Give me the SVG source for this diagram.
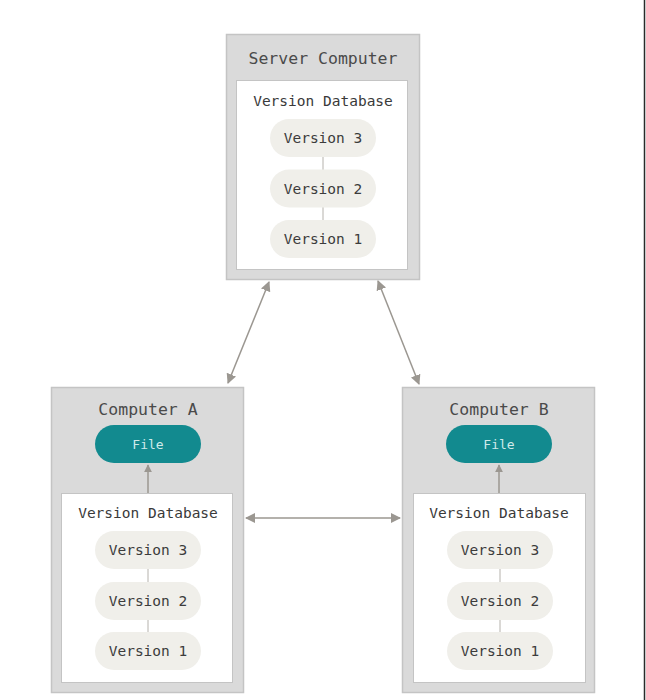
<svg xmlns="http://www.w3.org/2000/svg" width="646" height="700" viewBox="0 0 646 700">
<defs>
<style>
.outer{fill:#dadada;stroke:#c4c4c4;stroke-width:1.5}
.inner{fill:#ffffff;stroke:#c4c4c4;stroke-width:1}
.pill{fill:#f0efea}
.file{fill:#128a8f}
.t{font-family:"DejaVu Sans Mono","Liberation Mono",monospace;fill:#4a4a4a;text-anchor:middle}
.h{font-size:16.5px}
.d{font-size:14.5px;fill:#3a3a3a}
.p{font-size:14.5px;fill:#3c3c3c}
.f{font-size:13px;fill:#cfeaea}
.link{stroke:#b5b2ac;stroke-width:1}
.arr{stroke:#9b9791;stroke-width:1.5;fill:none}
</style>
<marker id="ah" viewBox="0 0 10 10" refX="9" refY="5" markerWidth="8" markerHeight="8" markerUnits="userSpaceOnUse" orient="auto-start-reverse">
<path d="M0,0 L10,5 L0,10 z" fill="#9b9791"/>
</marker>
<marker id="ah2" viewBox="0 0 10 10" refX="9" refY="5" markerWidth="10" markerHeight="10" markerUnits="userSpaceOnUse" orient="auto-start-reverse">
<path d="M0,0 L10,5 L0,10 z" fill="#9b9791"/>
</marker>
</defs>
<rect x="0" y="0" width="646" height="700" fill="#ffffff"/>
<line x1="644.5" y1="0" x2="644.5" y2="700" stroke="#2a2a2a" stroke-width="1.5"/>

<g id="server">
<rect class="outer" x="226.5" y="34.5" width="193" height="245"/>
<rect class="inner" x="236.5" y="80.5" width="171" height="189"/>
<text class="t h" x="323" y="63.5">Server Computer</text>
<text class="t d" x="323" y="106">Version Database</text>
<line class="link" x1="323" y1="157" x2="323" y2="170"/>
<line class="link" x1="323" y1="207" x2="323" y2="220"/>
<rect class="pill" x="270" y="119" width="106" height="38" rx="19"/>
<text class="t p" x="323" y="143">Version 3</text>
<rect class="pill" x="270" y="169.5" width="106" height="38" rx="19"/>
<text class="t p" x="323" y="193.5">Version 2</text>
<rect class="pill" x="270" y="220" width="106" height="38" rx="19"/>
<text class="t p" x="323" y="244">Version 1</text>
</g>

<g id="computerA">
<rect class="outer" x="51.5" y="387.5" width="192" height="305"/>
<rect class="inner" x="61.5" y="493.5" width="171" height="189"/>
<text class="t h" x="148" y="414.5">Computer A</text>
<rect class="file" x="95" y="425" width="106" height="38" rx="19"/>
<text class="t f" x="148" y="448.5">File</text>
<line class="arr" x1="148" y1="493" x2="148" y2="465" marker-end="url(#ah)"/>
<text class="t d" x="148" y="518">Version Database</text>
<line class="link" x1="148" y1="569" x2="148" y2="582"/>
<line class="link" x1="148" y1="620" x2="148" y2="633"/>
<rect class="pill" x="95" y="531" width="106" height="38" rx="19"/>
<text class="t p" x="148" y="555">Version 3</text>
<rect class="pill" x="95" y="582" width="106" height="38" rx="19"/>
<text class="t p" x="148" y="606">Version 2</text>
<rect class="pill" x="95" y="632" width="106" height="38" rx="19"/>
<text class="t p" x="148" y="656">Version 1</text>
</g>

<g id="computerB">
<rect class="outer" x="402.5" y="387.5" width="192" height="305"/>
<rect class="inner" x="413.5" y="493.5" width="172" height="189"/>
<text class="t h" x="499" y="414.5">Computer B</text>
<rect class="file" x="446" y="425" width="106" height="38" rx="19"/>
<text class="t f" x="499" y="448.5">File</text>
<line class="arr" x1="499" y1="493" x2="499" y2="465" marker-end="url(#ah)"/>
<text class="t d" x="499" y="518">Version Database</text>
<line class="link" x1="500" y1="569" x2="500" y2="582"/>
<line class="link" x1="500" y1="620" x2="500" y2="633"/>
<rect class="pill" x="447" y="531" width="106" height="38" rx="19"/>
<text class="t p" x="500" y="555">Version 3</text>
<rect class="pill" x="447" y="582" width="106" height="38" rx="19"/>
<text class="t p" x="500" y="606">Version 2</text>
<rect class="pill" x="447" y="632" width="106" height="38" rx="19"/>
<text class="t p" x="500" y="656">Version 1</text>
</g>

<g id="connectors">
<line class="arr" x1="269" y1="282" x2="228" y2="383" marker-start="url(#ah2)" marker-end="url(#ah2)"/>
<line class="arr" x1="378" y1="281" x2="419" y2="384" marker-start="url(#ah2)" marker-end="url(#ah2)"/>
<line class="arr" x1="246" y1="518" x2="400" y2="518" marker-start="url(#ah2)" marker-end="url(#ah2)"/>
</g>
</svg>
